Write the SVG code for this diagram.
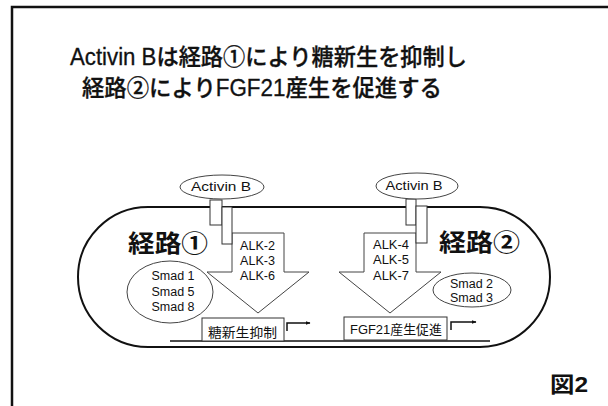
<svg xmlns="http://www.w3.org/2000/svg" width="608" height="406" viewBox="0 0 608 406">
<defs>
<marker id="ah" viewBox="0 0 10 10" refX="9" refY="5" markerWidth="5" markerHeight="5" orient="auto" markerUnits="userSpaceOnUse">
<path d="M0,1 L10,5 L0,9 Z" fill="#111"/>
</marker>
</defs>
<style>
text{font-family:"Liberation Sans","Noto Sans CJK JP",sans-serif;fill:#111}
.title{font-size:23px;font-weight:500;stroke:#111;stroke-width:0.3}
.lbl{font-size:24px;font-weight:bold}
.sm{font-size:12.5px}
.gene{font-size:13px}
.ell{fill:#fff;stroke:#444;stroke-width:1}
.rcp{fill:#fff;stroke:#333;stroke-width:1}
.arw{fill:#fff;stroke:#444;stroke-width:1}
.box{fill:#fff;stroke:#333;stroke-width:1}
</style>
<rect width="608" height="406" fill="#fff"/>
<g id="frame">
<path d="M12,406 V7 H608" fill="none" stroke="#111" stroke-width="2.5"/>
</g>
<g id="title">
<text class="title" x="70" y="65" textLength="397" lengthAdjust="spacingAndGlyphs">Activin Bは経路①により糖新生を抑制し</text>
<text class="title" x="82" y="96" textLength="360" lengthAdjust="spacingAndGlyphs">経路②によりFGF21産生を促進する</text>
</g>
<g id="cell">
<path d="M148,207 H480 A70,70 0 0 1 480,347 H148 A70,70 0 0 1 148,207 Z" fill="none" stroke="#111" stroke-width="2"/>
</g>
<g id="connectors">
<line x1="170" y1="341" x2="490" y2="341" stroke="#111" stroke-width="1.5"/>
<path d="M287,331 V323 H310" fill="none" stroke="#111" stroke-width="1.5" marker-end="url(#ah)"/>
<path d="M451,330 V322 H476" fill="none" stroke="#111" stroke-width="1.5" marker-end="url(#ah)"/>
</g>
<g id="arrow1">
<polygon class="arw" points="232,233 284,233 284,272 309,272 258,313 207,272 232,272"/>
<text class="sm" x="240" y="250" textLength="35" lengthAdjust="spacingAndGlyphs">ALK-2</text>
<text class="sm" x="240" y="265" textLength="35" lengthAdjust="spacingAndGlyphs">ALK-3</text>
<text class="sm" x="240" y="280" textLength="35" lengthAdjust="spacingAndGlyphs">ALK-6</text>
</g>
<g id="arrow2">
<polygon class="arw" points="364,233 416,233 416,272 441,272 390,313 339,272 364,272"/>
<text class="sm" x="373" y="249" textLength="36" lengthAdjust="spacingAndGlyphs">ALK-4</text>
<text class="sm" x="373" y="264" textLength="36" lengthAdjust="spacingAndGlyphs">ALK-5</text>
<text class="sm" x="373" y="280" textLength="36" lengthAdjust="spacingAndGlyphs">ALK-7</text>
</g>
<g id="receptor1">
<rect class="rcp" x="210" y="200" width="12" height="25"/>
<rect class="rcp" x="222" y="207" width="10" height="37"/>
</g>
<g id="receptor2">
<rect class="rcp" x="406" y="199" width="10" height="26"/>
<rect class="rcp" x="416" y="206" width="11" height="37"/>
</g>
<g id="activinB1">
<ellipse class="ell" cx="222" cy="187" rx="42" ry="12"/>
<text class="sm" x="221" y="191" text-anchor="middle" textLength="60" lengthAdjust="spacingAndGlyphs">Activin B</text>
</g>
<g id="activinB2">
<ellipse class="ell" cx="417" cy="186" rx="41" ry="13"/>
<text class="sm" x="414" y="190" text-anchor="middle" textLength="57" lengthAdjust="spacingAndGlyphs">Activin B</text>
</g>
<g id="pathway1">
<text class="lbl" x="128" y="252" textLength="80" lengthAdjust="spacingAndGlyphs">経路①</text>
</g>
<g id="pathway2">
<text class="lbl" x="439" y="251" textLength="81" lengthAdjust="spacingAndGlyphs">経路②</text>
</g>
<g id="smad158">
<ellipse class="ell" cx="170" cy="292" rx="43" ry="31"/>
<text class="sm" x="173" y="279.5" text-anchor="middle">Smad 1</text>
<text class="sm" x="173" y="295.5" text-anchor="middle">Smad 5</text>
<text class="sm" x="173" y="310.5" text-anchor="middle">Smad 8</text>
</g>
<g id="smad23">
<ellipse class="ell" cx="472" cy="290" rx="39" ry="17"/>
<text class="sm" x="471.5" y="287.5" text-anchor="middle">Smad 2</text>
<text class="sm" x="471.5" y="301.5" text-anchor="middle">Smad 3</text>
</g>
<g id="gene1">
<rect class="box" x="202" y="318" width="82" height="23"/>
<text class="gene" x="208" y="337" textLength="69" lengthAdjust="spacingAndGlyphs">糖新生抑制</text>
</g>
<g id="gene2">
<rect class="box" x="344" y="317" width="103" height="23"/>
<text class="gene" x="350" y="333.5" textLength="92" lengthAdjust="spacingAndGlyphs">FGF21産生促進</text>
</g>
<g id="figlabel">
<text x="550" y="392" font-size="22" font-weight="bold" textLength="38" lengthAdjust="spacingAndGlyphs">図2</text>
</g>
</svg>
